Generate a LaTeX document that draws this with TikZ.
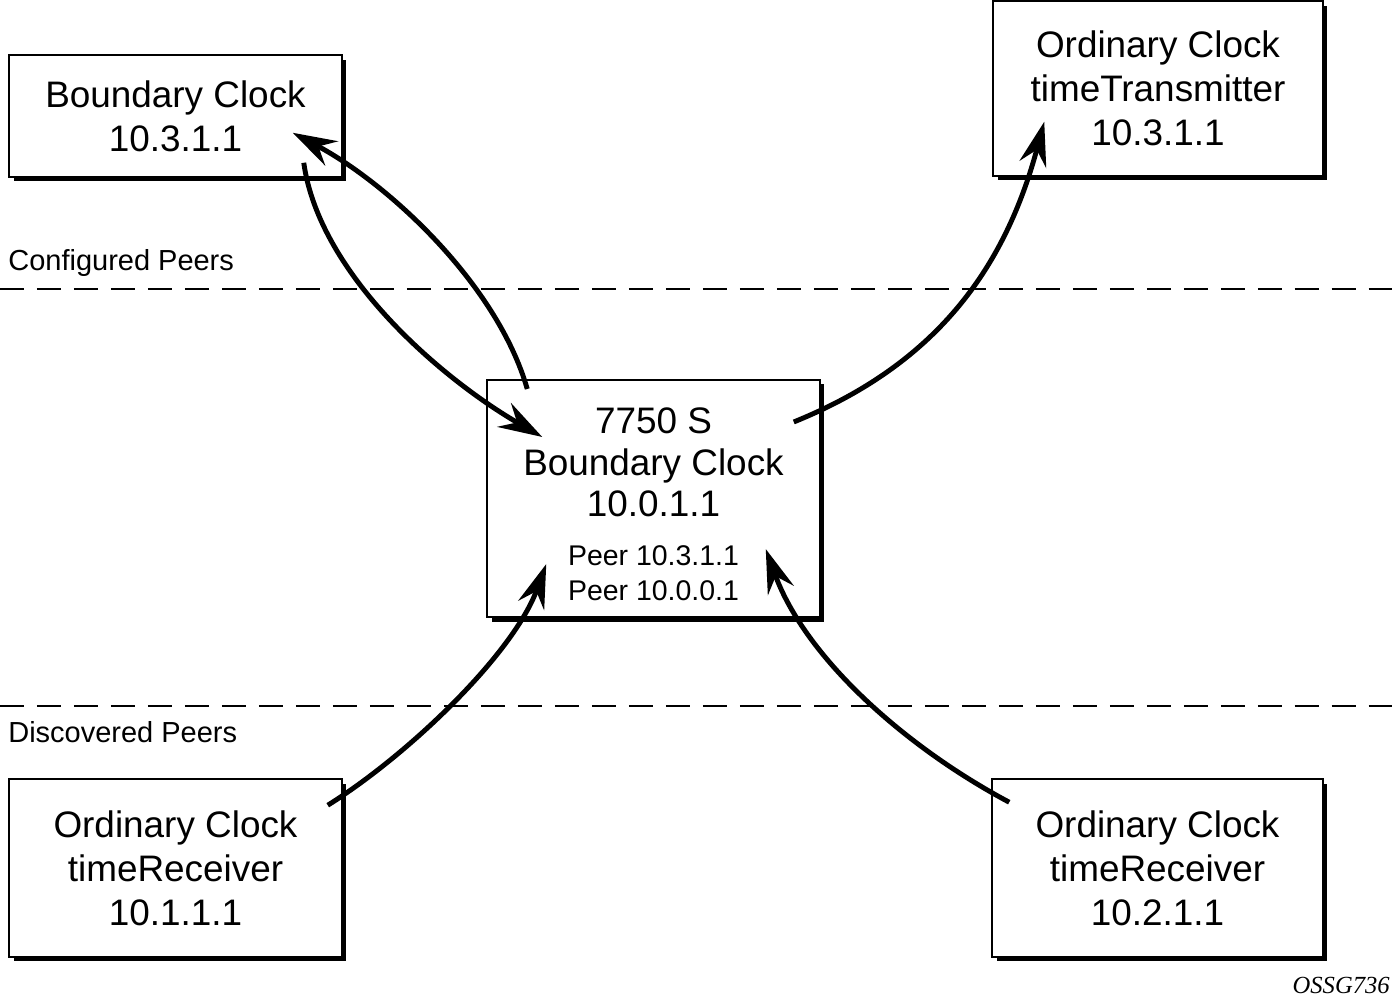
\documentclass[tikz,border=0pt]{standalone}
\usepackage{fontspec}
\setmainfont{Liberation Sans}
\newfontfamily\figfont{Liberation Serif}
\usetikzlibrary{arrows.meta,calc,shadows}

\begin{document}
\begin{tikzpicture}
  [x=0.02cm,y=0.02cm,
   clockN/.style={draw,line width=0.9pt,fill=white,align=center,
     font=\fontsize{21}{25}\selectfont,
     drop shadow={shadow xshift=0.09cm,shadow yshift=-0.09cm,fill=black,opacity=1}},
   peerL/.style={anchor=base west,inner sep=0pt,font=\fontsize{16.5}{19}\selectfont},
   sepline/.style={line width=0.8pt,dash pattern=on 0.48cm off 0.26cm},
   msg/.style={line width=2.8pt,-{Stealth[length=0.88cm,width=0.55cm,inset=0.3cm]}}]

  \useasboundingbox (0,0) rectangle (1392,1002);

  \draw[sepline] (0,713) -- (1392,713);
  \draw[sepline] (0,296) -- (1392,296);
  \node[peerL] (conf) at (8,731) {Configured Peers};
  \node[peerL] (disc) at (8,260) {Discovered Peers};

  \node[clockN,minimum width=6.66cm,minimum height=2.44cm] (bc) at (175.5,886)
       {Boundary Clock\\10.3.1.1};
  \node[clockN,minimum width=6.6cm,minimum height=3.5cm] (oct) at (1158,913.5)
       {Ordinary Clock\\timeTransmitter\\10.3.1.1};
  \node[clockN,minimum width=6.66cm,minimum height=4.74cm,
        font=\fontsize{21}{23.6}\selectfont] (bs) at (653.5,503.5)
       {\rule{0pt}{27.5pt}7750 S\\Boundary Clock\\10.0.1.1\\[4.2pt]
        \fontsize{16.2}{20}\selectfont
        \begin{tabular}[t]{@{}c@{}}Peer 10.3.1.1\\Peer 10.0.0.1\end{tabular}};
  \node[clockN,minimum width=6.66cm,minimum height=3.56cm] (ocrA) at (175.5,134)
       {Ordinary Clock\\timeReceiver\\10.1.1.1};
  \node[clockN,minimum width=6.62cm,minimum height=3.56cm] (ocrB) at (1157.5,134)
       {Ordinary Clock\\timeReceiver\\10.2.1.1};

  \coordinate (bcout) at ($(bc.south east)+(-39,15)$);
  \coordinate (bcin) at ($(bc.south east)+(-50,45)$);
  \coordinate (bsout) at ($(bs.north west)+(41,-10)$);
  \coordinate (bsinA) at ($(bs.north west)+(56,-58)$);
  \coordinate (bsoutB) at ($(bs.north east)+(-27,-43)$);
  \coordinate (bsinC) at ($(bs.south west)+(60,54)$);
  \coordinate (bsinD) at ($(bs.south east)+(-55,69)$);
  \coordinate (octin) at ($(oct.south west)+(52,55)$);
  \coordinate (ocrAout) at ($(ocrA.north east)+(-15,-27)$);
  \coordinate (ocrBout) at ($(ocrB.north west)+(18,-24)$);

  \draw[msg] (bsout) to[out=106,in=-28,looseness=0.8] (bcin);
  \draw[msg] (bcout) to[out=-82,in=150,looseness=0.8] (bsinA);
  \draw[msg] (bsoutB) to[out=22,in=-105] (octin);
  \draw[msg] (ocrAout) to[out=32,in=-110,looseness=0.75] (bsinC);
  \draw[msg] (ocrBout) to[out=152,in=-70,looseness=0.85] (bsinD);

  \node[anchor=base east,inner sep=0pt,font=\figfont\itshape\fontsize{14}{16}\selectfont] (fig)
       at (1390,9) {OSSG736};
\end{tikzpicture}
\end{document}
